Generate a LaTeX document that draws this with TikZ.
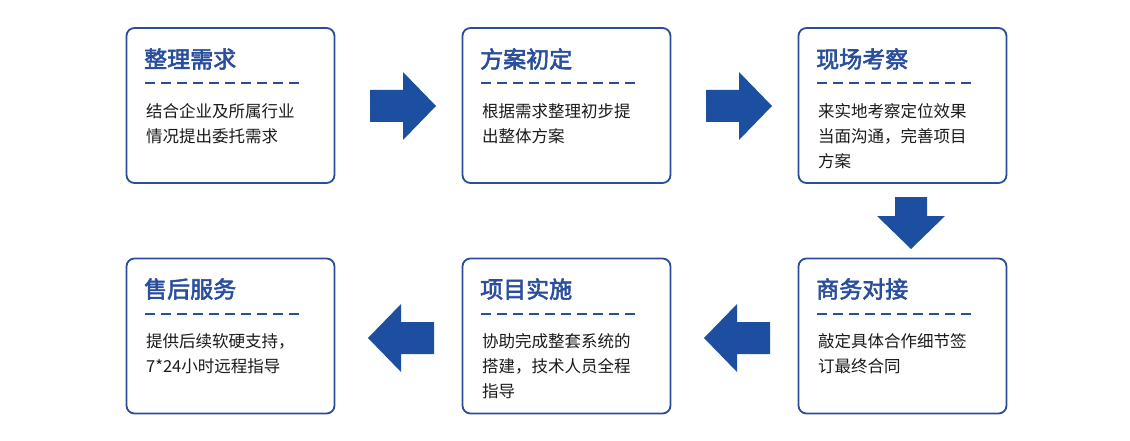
\documentclass[tikz,border=0pt]{standalone}
\usepackage{fontspec}
\setmainfont{Noto Sans CJK SC}[AutoFakeBold=2.5]
\definecolor{boxblue}{HTML}{2A4E9B}
\definecolor{arrblue}{HTML}{1D4FA0}
\definecolor{txt}{HTML}{1A1A1A}
\tikzset{
	card/.style={draw=boxblue, line width=1.8pt, rounded corners=8pt, minimum width=208pt, minimum height=155pt},
	cardtitle/.style={anchor=west, text=boxblue, font=\fontsize{23}{27}\selectfont\bfseries, inner sep=0pt},
	cardtext/.style={anchor=north west, text=txt, font=\fontsize{16.5}{25}\selectfont, align=left, inner sep=0pt},
	cardrule/.style={draw=boxblue, line width=2.6pt, dash pattern=on 10pt off 6pt},
	bigarrow/.style={fill=arrblue}
}
\begin{document}
\begin{tikzpicture}[x=1pt, y=-1pt]
	\useasboundingbox (0, 0) rectangle (1130, 441);

	\node[card] (b1) at(230.5, 105.5){};
	\node[card] (b2) at(566.5, 105.5){};
	\node[card] (b3) at(902.5, 105.5){};
	\node[card] (b4) at(230.5, 336){};
	\node[card] (b5) at(566.5, 336){};
	\node[card] (b6) at(902.5, 336){};

		\node[cardtitle] (t1) at(144, 59){整理需求};
		\node[cardtitle] (t2) at(480, 59){方案初定};
		\node[cardtitle] (t3) at(816, 59){现场考察};
		\node[cardtitle] (t4) at(144, 289){售后服务};
		\node[cardtitle] (t5) at(480, 289){项目实施};
		\node[cardtitle] (t6) at(816, 289){商务对接};

		\draw[cardrule](145, 83) to (302, 83);
		\draw[cardrule](481, 83) to (638, 83);
		\draw[cardrule](817, 83) to (974, 83);
		\draw[cardrule](145, 314) to (302, 314);
		\draw[cardrule](481, 314) to (638, 314);
		\draw[cardrule](817, 314) to (974, 314);

		\node[cardtext] (d1) at(146, 103){结合企业及所属行业\\情况提出委托需求};
		\node[cardtext] (d2) at(482, 103){根据需求整理初步提\\出整体方案};
		\node[cardtext] (d3) at(818, 103){来实地考察定位效果\\当面沟通，完善项目\\方案};
		\node[cardtext] (d4) at(146, 333){提供后续软硬支持，\\7*24小时远程指导};
		\node[cardtext] (d5) at(482, 333){协助完成整套系统的\\搭建，技术人员全程\\指导};
		\node[cardtext] (d6) at(818, 333){敲定具体合作细节签\\订最终合同};

	% arrows between the cards
	\fill[bigarrow](370, 90) -- (403, 90) -- (403, 72) -- (436, 106) -- (403, 140) -- (403, 122) -- (370, 122) -- cycle;
	\fill[bigarrow](706, 90) -- (739, 90) -- (739, 72) -- (772, 106) -- (739, 140) -- (739, 122) -- (706, 122) -- cycle;
	\fill[bigarrow](895, 197) -- (927, 197) -- (927, 216) -- (945, 216) -- (911, 249) -- (877, 216) -- (895, 216) -- cycle;
	\fill[bigarrow](770, 322) -- (737, 322) -- (737, 304) -- (704, 338) -- (737, 372) -- (737, 354) -- (770, 354) -- cycle;
	\fill[bigarrow](434, 322) -- (401, 322) -- (401, 304) -- (368, 338) -- (401, 372) -- (401, 354) -- (434, 354) -- cycle;
\end{tikzpicture}
\end{document}
